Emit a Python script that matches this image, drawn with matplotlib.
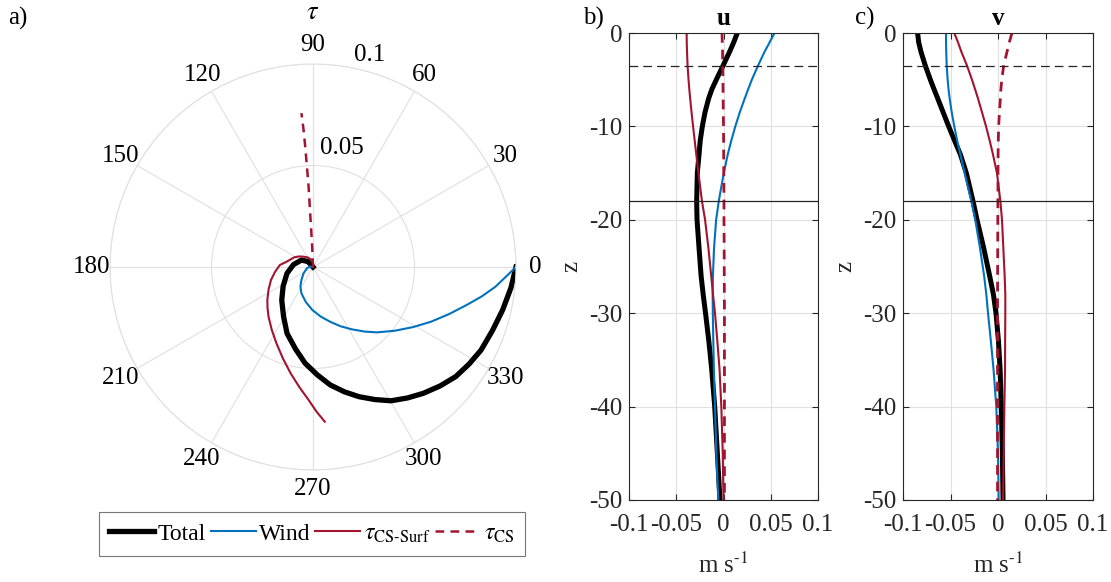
import numpy as np
import matplotlib
matplotlib.use("Agg")
import matplotlib.pyplot as plt
from matplotlib.lines import Line2D

plt.rcParams['font.family'] = ['Liberation Serif', 'DejaVu Serif']
plt.rcParams['mathtext.fontset'] = 'stix'
plt.rcParams['axes.unicode_minus'] = False
plt.rcParams['font.size'] = 18

# ---- colours ----
C_TOTAL = '#000000'
C_WIND = '#0072BD'
C_CS = '#A2142F'
AX_COL = '#262626'
GRID_COL = '#e0e0e0'

# ---- stress hodographs: eastward / northward components ----
total_tx = [0.1000, 0.0975, 0.0934, 0.0884, 0.0828, 0.0769, 0.0703, 0.0626, 0.0544,
            0.0466, 0.0385, 0.0305, 0.0227, 0.0155, 0.0085, 0.0022, -0.0039, -0.0086,
            -0.0128, -0.0145, -0.0154, -0.0147, -0.0128, -0.0096, -0.0057, -0.0025, 0.0]
total_ty = [0.0, -0.0103, -0.0212, -0.0313, -0.0409, -0.0478, -0.0540, -0.0586, -0.0622,
            -0.0645, -0.0659, -0.0653, -0.0639, -0.0615, -0.0581, -0.0532, -0.0474,
            -0.0404, -0.0327, -0.0244, -0.0163, -0.0094, -0.0031, 0.0012, 0.0034, 0.0027, 0.0]

wind_tx = [0.1000, 0.0951, 0.0899, 0.0831, 0.0757, 0.0670, 0.0580, 0.0493, 0.0403,
           0.0315, 0.0254, 0.0191, 0.0136, 0.0085, 0.0038, -0.0003, -0.0035, -0.0057,
           -0.0062, -0.0057, -0.0047, -0.0030, -0.0015, 0.0]
wind_ty = [0.0, -0.0047, -0.0097, -0.0145, -0.0187, -0.0232, -0.0270, -0.0296, -0.0314,
           -0.0322, -0.0318, -0.0307, -0.0292, -0.0270, -0.0244, -0.0212, -0.0173,
           -0.0130, -0.0096, -0.0064, -0.0032, -0.0006, 0.0002, 0.0]

cs_surf_tx = [0.0058, 0.0017, -0.0021, -0.0067, -0.0110, -0.0148, -0.0180, -0.0203,
              -0.0219, -0.0224, -0.0225, -0.0219, -0.0207, -0.0187, -0.0163, -0.0130,
              -0.0092, -0.0069, -0.0048, -0.0025, -0.0006, 0.0, 0.0001]
cs_surf_ty = [-0.0762, -0.0712, -0.0656, -0.0592, -0.0524, -0.0451, -0.0376, -0.0310,
              -0.0245, -0.0202, -0.0163, -0.0111, -0.0064, -0.0024, 0.0010, 0.0026,
              0.0048, 0.0052, 0.0051, 0.0047, 0.0034, 0.0017, 0.0001]

cs_tx = [0.0, -0.0004, -0.0010, -0.0016, -0.0022, -0.0030, -0.0038, -0.0047, -0.0057]
cs_ty = [0.0, 0.0100, 0.0200, 0.0300, 0.0400, 0.0494, 0.0590, 0.0680, 0.0758]

# ---- velocity profiles ----
z = [0, -1, -2, -3.5, -5, -6, -7, -8.5, -10, -11.5, -13, -15, -18, -20, -23, -26, -28,
     -30, -33, -36, -40, -45, -50]

u_total = [0.0146, 0.0108, 0.0065, -0.0005, -0.0076, -0.0122, -0.0157, -0.0196, -0.0224,
           -0.0246, -0.0259, -0.0277, -0.0284, -0.0280, -0.0259, -0.0237, -0.0215,
           -0.0190, -0.0155, -0.0125, -0.0093, -0.0065, -0.0037]
u_wind = [0.0540, 0.0488, 0.0435, 0.0365, 0.0300, 0.0262, 0.0225, 0.0172, 0.0125,
          0.0083, 0.0045, 0.0003, -0.0050, -0.0078, -0.0100, -0.0112, -0.0115,
          -0.0113, -0.0108, -0.0102, -0.0090, -0.0076, -0.0055]
u_cs_surf = [-0.0390, -0.0389, -0.0386, -0.0380, -0.0370, -0.0362, -0.0353, -0.0338,
             -0.0322, -0.0305, -0.0288, -0.0265, -0.0228, -0.0195, -0.0160, -0.0130,
             -0.0111, -0.0090, -0.0065, -0.0042, -0.0023, -0.0008, 0.0]
u_cs = [-0.0016, -0.0013, -0.0010, -0.0008, -0.0006, -0.0005, -0.0004, -0.0002, 0.0,
        0.0001, 0.0002, 0.0003, 0.0005, 0.0005, 0.0007, 0.0008, 0.0009, 0.0010, 0.0010,
        0.0010, 0.0010, 0.0010, 0.0010]

v_total = [-0.0846, -0.0835, -0.0811, -0.0765, -0.0712, -0.0674, -0.0635, -0.0577,
           -0.0519, -0.0458, -0.0396, -0.0333, -0.0263, -0.0221, -0.0151, -0.0088,
           -0.0048, -0.0021, 0.0005, 0.0022, 0.0035, 0.0046, 0.0053]
v_wind = [-0.0547, -0.0547, -0.0545, -0.0540, -0.0530, -0.0521, -0.0509, -0.0487,
          -0.0460, -0.0430, -0.0396, -0.0351, -0.0281, -0.0239, -0.0190, -0.0146,
          -0.0123, -0.0105, -0.0075, -0.0047, -0.0018, 0.0, 0.0007]
v_cs_surf = [-0.0460, -0.0421, -0.0386, -0.0326, -0.0274, -0.0242, -0.0211, -0.0168,
             -0.0126, -0.0088, -0.0053, -0.0011, 0.0025, 0.0042, 0.0056, 0.0070, 0.0077,
             0.0077, 0.0075, 0.0074, 0.0067, 0.0060, 0.0053]
v_cs = [0.0147, 0.0119, 0.0095, 0.0060, 0.0039, 0.0031, 0.0025, 0.0015, 0.0007, 0.0003,
        0.0001, 0.0, -0.0001, -0.0002, -0.0003, -0.0004, -0.0005, -0.0005, -0.0005,
        -0.0005, -0.0005, -0.0005, -0.0005]

# reference depths
z_dashed = -3.5
z_solid = -18.0

theta_ticks = [0, 30, 60, 90, 120, 150, 180, 210, 240, 270, 300, 330]
theta_labels = ['0', '30', '60', '90', '120', '150', '180', '210', '240', '270', '300', '330']
r_ticks = [0.05, 0.1]
r_labels = ['0.05', '0.1']
x_ticks = [-0.1, -0.05, 0, 0.05, 0.1]
x_labels = ['-0.1', '-0.05', '0', '0.05', '0.1']
z_ticks = [0, -10, -20, -30, -40, -50]
z_labels = ['0', '-10', '-20', '-30', '-40', '-50']

labels = ['Total', 'Wind', r'$\tau_{\text{CS-Surf}}$', r'$\tau_{\text{CS}}$']

W, H = 1111, 582
fig = plt.figure(figsize=(W / 100, H / 100), dpi=100)


def frac(x0, y0, x1, y1):
    return [x0 / W, 1 - y1 / H, (x1 - x0) / W, (y1 - y0) / H]


def to_polar(tx, ty):
    tx = np.asarray(tx)
    ty = np.asarray(ty)
    return np.arctan2(ty, tx), np.hypot(tx, ty)


# ---- panel a: polar hodograph ----
axp = fig.add_axes(frac(110, 64, 516, 470), projection='polar')
for tx, ty, kw in [(total_tx, total_ty, dict(color=C_TOTAL, lw=3.8)),
                   (wind_tx, wind_ty, dict(color=C_WIND, lw=1.5)),
                   (cs_surf_tx, cs_surf_ty, dict(color=C_CS, lw=1.5)),
                   (cs_tx, cs_ty, dict(color=C_CS, lw=1.8, ls=(0, (3.5, 2.5))))]:
    th, rr = to_polar(tx, ty)
    axp.plot(np.unwrap(th), rr, solid_joinstyle='round', **kw)
axp.set_rlim(0, 0.1)
axp.set_thetagrids(theta_ticks, theta_labels)
axp.set_rgrids(r_ticks, [''] * len(r_ticks))
axp.grid(True, color=GRID_COL, lw=0.8)
axp.spines['polar'].set_color(GRID_COL)
axp.spines['polar'].set_linewidth(0.8)
axp.tick_params(axis='x', pad=3, labelsize=18)
# radial tick labels placed beside the 80-degree direction, outside each ring
for rv, lab, ang, scale in zip(r_ticks, r_labels, [76.3, 75.0], [1.206, 1.081]):
    axp.text(np.deg2rad(ang), rv * scale, lab, ha='center', va='center', fontsize=18)
fig.text(313 / W, 1 - 13 / H, r'$\tau$', ha='center', va='center', fontsize=19)
fig.text(18 / W, 1 - 18 / H, 'a)', ha='center', va='center', fontsize=18)

handles = [Line2D([], [], color=C_TOTAL, lw=3.8),
           Line2D([], [], color=C_WIND, lw=1.5),
           Line2D([], [], color=C_CS, lw=1.5),
           Line2D([], [], color=C_CS, lw=1.8, ls=(0, (3.5, 2.5)))]
leg = fig.legend(handles, labels, loc='center', bbox_to_anchor=(312 / W, 1 - 534 / H),
                 ncol=4, frameon=True, fancybox=False, edgecolor='#555555',
                 handlelength=1.9, handletextpad=0.15, columnspacing=0.2,
                 borderpad=0.45, fontsize=17)
leg.get_frame().set_linewidth(0.8)


# ---- panels b, c: profiles ----
def profile(ax, tot, wind, cs_surf, cs, title, tag, tag_x):
    ax.plot(tot, z, color=C_TOTAL, lw=3.6, solid_joinstyle='round')
    ax.plot(wind, z, color=C_WIND, lw=1.5)
    ax.plot(cs_surf, z, color=C_CS, lw=1.5)
    ax.plot(cs, z, color=C_CS, lw=2.0, ls=(0, (3.5, 2.5)))
    ax.axhline(z_dashed, color=AX_COL, lw=0.9, ls=(0, (7, 4)))
    ax.axhline(z_solid, color=AX_COL, lw=0.9)
    ax.set_xlim(-0.1, 0.1)
    ax.set_ylim(-50, 0)
    ax.set_xticks(x_ticks)
    ax.set_xticklabels(x_labels)
    ax.set_yticks(z_ticks)
    ax.set_yticklabels(z_labels)
    ax.grid(True, color=GRID_COL, lw=0.8)
    ax.set_axisbelow(True)
    for s in ax.spines.values():
        s.set_color(AX_COL)
        s.set_linewidth(0.8)
    ax.tick_params(direction='in', length=4, width=0.8, color=AX_COL,
                   top=True, right=True, labelsize=18, labelcolor=AX_COL)
    ax.tick_params(axis='x', pad=10)
    ax.tick_params(axis='y', pad=5)
    ax.set_xlabel(r'm s$^{\text{-1}}$', fontsize=18, color=AX_COL, labelpad=12)
    ax.set_ylabel('z', fontsize=18, color=AX_COL, labelpad=5)
    ax.set_title(title, fontweight='bold', fontsize=18, pad=6)
    fig.text(tag_x / W, 1 - 18 / H, tag, ha='center', va='center', fontsize=18)


axb = fig.add_axes(frac(629, 33, 818, 500))
profile(axb, u_total, u_wind, u_cs_surf, u_cs, 'u', 'b)', 593)
axc = fig.add_axes(frac(903, 33, 1093, 500))
profile(axc, v_total, v_wind, v_cs_surf, v_cs, 'v', 'c)', 865)

fig.savefig('out.png', dpi=100)
